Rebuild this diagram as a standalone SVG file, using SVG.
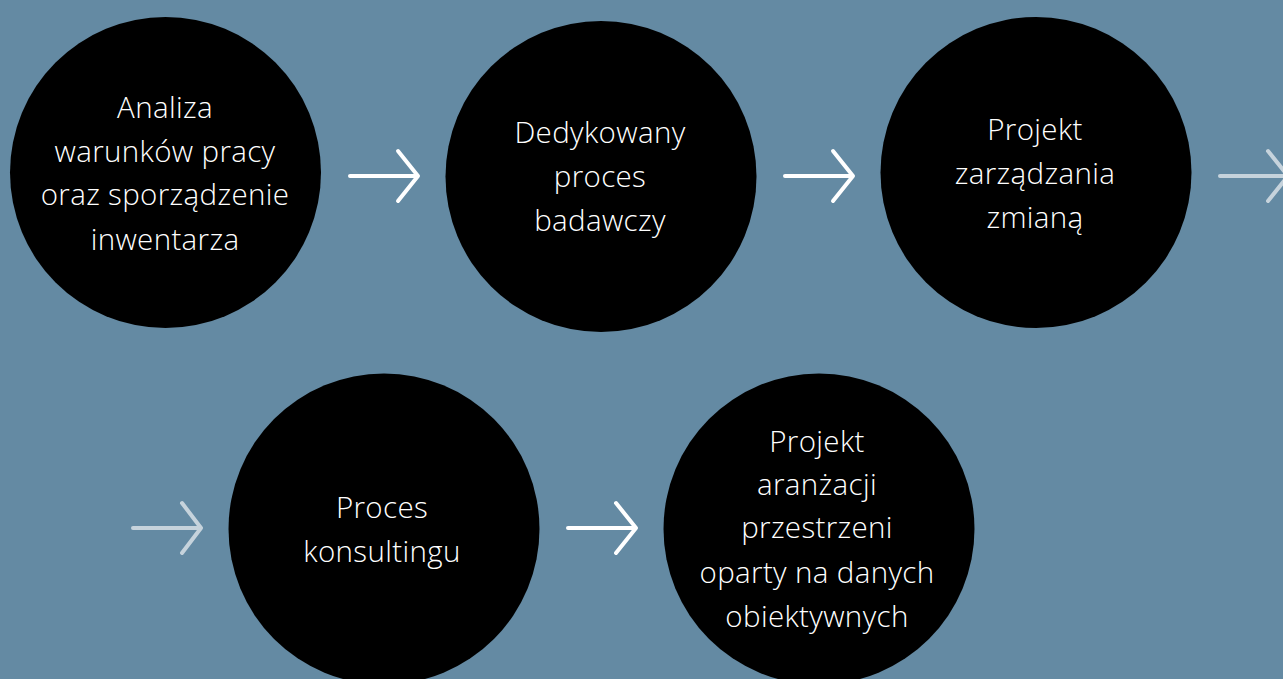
<svg xmlns="http://www.w3.org/2000/svg" width="1283" height="679" viewBox="0 0 1283 679">
<style>
.node{fill:#000}
.lbl{font-family:"Open Sans","Liberation Sans",sans-serif;font-size:29.5px;font-weight:300;letter-spacing:0.35px;fill:#fff;text-anchor:middle}
.arr{fill:none;stroke-width:4;stroke-linecap:round;stroke-linejoin:round}
.w{stroke:#fff}
.l{stroke:#c6d3dc}
</style>
<rect width="1283" height="679" fill="#648aa3"/>
<g id="connectors">
<path class="arr w" d="M350 176H417M398 151L418 176L398 201"/>
<path class="arr w" d="M785 176H852M833 151L853 176L833 201"/>
<path class="arr l" d="M1220 176H1287M1268 151L1288 176L1268 201"/>
<path class="arr l" d="M133 528H199M182 503L201 528L182 553"/>
<path class="arr w" d="M568 528H635M616 503L636 528L616 553"/>
</g>
<g id="n1"><circle class="node" cx="165.5" cy="172.5" r="155.5"/>
<text class="lbl" x="165" y="118">Analiza</text>
<text class="lbl" x="165" y="162">warunków pracy</text>
<text class="lbl" x="165" y="205">oraz sporządzenie</text>
<text class="lbl" x="165" y="250">inwentarza</text></g>
<g id="n2"><circle class="node" cx="601" cy="176.5" r="155.5"/>
<text class="lbl" x="600" y="143">Dedykowany</text>
<text class="lbl" x="600" y="187">proces</text>
<text class="lbl" x="600" y="231">badawczy</text></g>
<g id="n3"><circle class="node" cx="1036" cy="172.5" r="155.5"/>
<text class="lbl" x="1035" y="140">Projekt</text>
<text class="lbl" x="1035" y="184">zarządzania</text>
<text class="lbl" x="1035" y="228">zmianą</text></g>
<g id="n4"><circle class="node" cx="384" cy="529" r="155.5"/>
<text class="lbl" x="382" y="518">Proces</text>
<text class="lbl" x="382" y="562">konsultingu</text></g>
<g id="n5"><circle class="node" cx="819" cy="529" r="155.5"/>
<text class="lbl" x="817" y="452">Projekt</text>
<text class="lbl" x="817" y="495">aranżacji</text>
<text class="lbl" x="817" y="538">przestrzeni</text>
<text class="lbl" x="817" y="583">oparty na danych</text>
<text class="lbl" x="817" y="627">obiektywnych</text></g>
</svg>
